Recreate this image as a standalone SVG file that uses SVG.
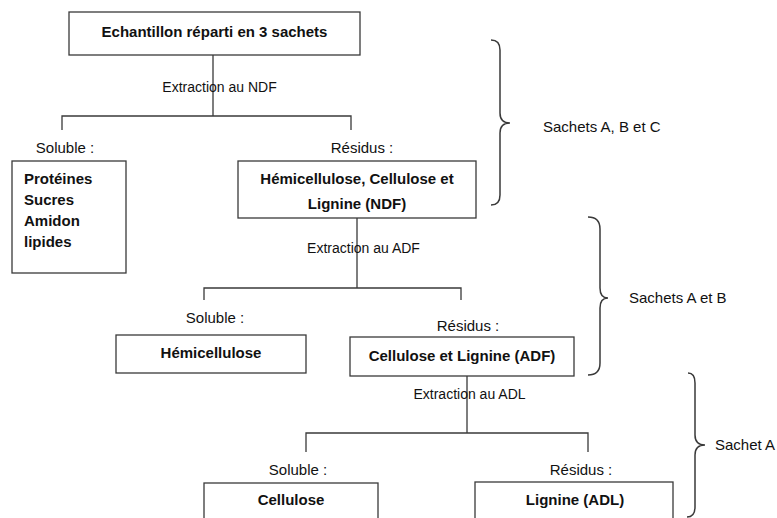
<svg xmlns="http://www.w3.org/2000/svg" width="777" height="518" viewBox="0 0 777 518">
<style>
.box{fill:#fff;stroke:#3a3a3a;stroke-width:1.3}
.ln{fill:none;stroke:#3a3a3a;stroke-width:1.3}
.br{fill:none;stroke:#3a3a3a;stroke-width:1.5}
text{font-family:"Liberation Sans",Arial,sans-serif;fill:#111}
.b{font-weight:bold;font-size:15px;text-anchor:middle}
.bl{font-weight:bold;font-size:15px}
.r{font-size:15px;text-anchor:middle}
.x{font-size:14px;text-anchor:middle}
.s{font-size:15px}
</style>
<rect width="777" height="518" fill="#fff"/>
<g id="connectors">
<path class="ln" d="M213,55V116M62,130V116H351V130"/>
<path class="ln" d="M357,218V288M204,300V288H461V300"/>
<path class="ln" d="M467,376V433M306,452V433H588V452"/>
</g>
<g id="n_top"><rect class="box" x="69" y="12" width="291" height="43"/><text class="b" x="214.5" y="37">Echantillon réparti en 3 sachets</text></g>
<g id="l_ndf"><text class="x" x="219.5" y="92">Extraction au NDF</text></g>
<g id="l_sol1"><text class="r" x="65" y="153">Soluble :</text></g>
<g id="l_res1"><text class="r" x="362" y="153">Résidus :</text></g>
<g id="n_soluble1"><rect class="box" x="12" y="161" width="114" height="112"/>
<text class="bl" x="24" y="184">Protéines</text><text class="bl" x="24" y="205">Sucres</text><text class="bl" x="24" y="226">Amidon</text><text class="bl" x="24" y="247">lipides</text></g>
<g id="n_ndf"><rect class="box" x="238" y="161" width="238" height="57"/><text class="b" x="357" y="184">Hémicellulose, Cellulose et</text><text class="b" x="357" y="209">Lignine (NDF)</text></g>
<g id="l_adf"><text class="x" x="363.5" y="253">Extraction au ADF</text></g>
<g id="l_sol2"><text class="r" x="215" y="323">Soluble :</text></g>
<g id="l_res2"><text class="r" x="468" y="331">Résidus :</text></g>
<g id="n_hemi"><rect class="box" x="116" y="335" width="190" height="38"/><text class="b" x="211" y="358">Hémicellulose</text></g>
<g id="n_adf"><rect class="box" x="350" y="337" width="224" height="39"/><text class="b" x="462" y="361">Cellulose et Lignine (ADF)</text></g>
<g id="l_adl"><text class="x" x="469.5" y="399">Extraction au ADL</text></g>
<g id="l_sol3"><text class="r" x="298" y="475">Soluble :</text></g>
<g id="l_res3"><text class="r" x="581" y="475">Résidus :</text></g>
<g id="n_cell"><rect class="box" x="204" y="483" width="174" height="60"/><text class="b" x="291" y="505">Cellulose</text></g>
<g id="n_adl"><rect class="box" x="475" y="482" width="198" height="60"/><text class="b" x="575" y="505">Lignine (ADL)</text></g>
<g id="brace1"><path class="br" d="M491,40Q500,40 500,50V113Q500,123 510,123Q500,123 500,133V195Q500,205 491,205"/><text class="s" x="543" y="132">Sachets A, B et C</text></g>
<g id="brace2"><path class="br" d="M588,217Q600,217 600,229V288Q600,298 608,298Q600,298 600,308V363Q600,375 588,375"/><text class="s" x="629" y="303">Sachets A et B</text></g>
<g id="brace3"><path class="br" d="M688,373Q695,373 695,383V435Q695,445 705,445Q695,445 695,455V507Q695,517 687,517"/><text class="s" x="715" y="450">Sachet A</text></g>
</svg>
